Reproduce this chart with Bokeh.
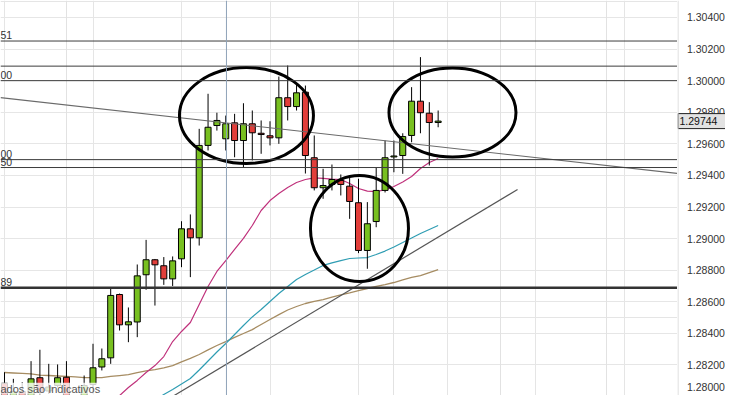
from bokeh.plotting import figure
from bokeh.layouts import row
from bokeh.models import FixedTicker, Label, Span, Range1d, Grid, ColumnDataSource
from bokeh.core.properties import value
from bokeh.embed import file_html
from bokeh.resources import INLINE

# ---------------- data ----------------
idx = list(range(50))
opens = [1.28084, 1.27874, 1.28032, 1.27899, 1.28119, 1.28035, 1.28070, 1.28122, 1.27836, 1.27861,
         1.28076, 1.28187, 1.28245, 1.28646, 1.28454, 1.28472, 1.28771, 1.28866, 1.28828, 1.28745,
         1.28872, 1.29062, 1.29005, 1.29590, 1.29716, 1.29632, 1.29733, 1.29621, 1.29727, 1.29667,
         1.29651, 1.29638, 1.29892, 1.29836, 1.29927, 1.29512, 1.29322, 1.29343, 1.29368, 1.29332,
         1.29227, 1.28925, 1.29108, 1.29305, 1.29517, 1.29526, 1.29653, 1.29870, 1.29794, 1.29735]
highs = [1.28154, 1.28112, 1.28091, 1.28224, 1.28296, 1.28207, 1.28203, 1.28224, 1.27899, 1.28133,
         1.28334, 1.28304, 1.28688, 1.28652, 1.28564, 1.28836, 1.28992, 1.28871, 1.28883, 1.28887,
         1.29110, 1.29153, 1.29695, 1.29917, 1.29797, 1.29779, 1.29790, 1.29857, 1.29811, 1.29748,
         1.29743, 1.30026, 1.30096, 1.29976, 1.29969, 1.29653, 1.29442, 1.29469, 1.29406, 1.29387,
         1.29379, 1.29231, 1.29452, 1.29621, 1.29621, 1.29667, 1.29959, 1.30149, 1.29864, 1.29811]
lows = [1.27848, 1.27836, 1.27823, 1.27861, 1.27988, 1.28016, 1.28057, 1.27848, 1.27785, 1.27823,
        1.28019, 1.28165, 1.28207, 1.28418, 1.28344, 1.28376, 1.28676, 1.28576, 1.28707, 1.28700,
        1.28819, 1.28756, 1.28956, 1.29558, 1.29684, 1.29558, 1.29515, 1.29452, 1.29495, 1.29537,
        1.29590, 1.29600, 1.29748, 1.29811, 1.29412, 1.29305, 1.29252, 1.29305, 1.29273, 1.29125,
        1.28908, 1.28809, 1.29072, 1.29292, 1.29420, 1.29410, 1.29610, 1.29667, 1.29463, 1.29705]
closes = [1.27886, 1.28032, 1.27861, 1.28112, 1.28027, 1.28060, 1.28119, 1.27880, 1.27893, 1.28070,
          1.28182, 1.28239, 1.28640, 1.28454, 1.28473, 1.28764, 1.28866, 1.28834, 1.28745, 1.28859,
          1.29062, 1.29005, 1.29590, 1.29705, 1.29748, 1.29727, 1.29621, 1.29727, 1.29670, 1.29659,
          1.29638, 1.29892, 1.29836, 1.29923, 1.29526, 1.29322, 1.29336, 1.29374, 1.29343, 1.29235,
          1.28925, 1.29094, 1.29305, 1.29512, 1.29523, 1.29646, 1.29870, 1.29797, 1.29735, 1.29744]

# moving averages
ma_fast_x = list(range(11, 50))
ma_fast = [1.27905, 1.27956, 1.28006, 1.28057, 1.28102, 1.28152, 1.28196, 1.28253, 1.28348, 1.28412,
           1.28469, 1.28583, 1.28697, 1.28792, 1.28861, 1.28931, 1.29001, 1.29083, 1.29178, 1.29241,
           1.29286, 1.29324, 1.29355, 1.29374, 1.29384, 1.29381, 1.29377, 1.29374, 1.29349, 1.29317,
           1.29301, 1.29298, 1.29308, 1.29330, 1.29358, 1.29393, 1.29444, 1.29482, 1.29507]
ma_mid_x = list(range(15, 50))
ma_mid = [1.27899, 1.27934, 1.27975, 1.28013, 1.28045, 1.28079, 1.28114, 1.28168, 1.28225, 1.28282,
          1.28336, 1.28393, 1.28450, 1.28504, 1.28551, 1.28602, 1.28652, 1.28697, 1.28741, 1.28773,
          1.28801, 1.28830, 1.28846, 1.28861, 1.28874, 1.28877, 1.28880, 1.28899, 1.28921, 1.28947,
          1.28975, 1.29004, 1.29032, 1.29058, 1.29083]
ma_slow_x = list(range(0, 50))
ma_slow = [1.28152, 1.28149, 1.28146, 1.28143, 1.28136, 1.28133, 1.28130, 1.28127, 1.28124, 1.28120,
           1.28120, 1.28120, 1.28127, 1.28133, 1.28139, 1.28152, 1.28162, 1.28171, 1.28181, 1.28196,
           1.28219, 1.28241, 1.28266, 1.28295, 1.28323, 1.28348, 1.28374, 1.28399, 1.28424, 1.28456,
           1.28488, 1.28519, 1.28548, 1.28570, 1.28589, 1.28602, 1.28614, 1.28630, 1.28643, 1.28656,
           1.28671, 1.28684, 1.28697, 1.28709, 1.28722, 1.28738, 1.28754, 1.28766, 1.28785, 1.28804]

# drawn objects
down_trend_x = [-0.45, 76.05]
down_trend_y = [1.29893, 1.29412]
up_trend_x = [16.16, 57.97]
up_trend_y = [1.27905, 1.29311]
levels_thin = [1.30251, 1.30092, 1.30000, 1.29500, 1.29450]
level_thick = 1.28689
level_label_y = [1.30251, 1.30000, 1.29500, 1.29450, 1.28689]
level_label_txt = ["51", "00", "00", "50", "89"]
ellipse_x = [27.34, 40.11, 50.62]
ellipse_y = [1.29779, 1.29064, 1.29798]
ellipse_w = [134, 98, 127]
ellipse_h = [96, 106, 89]
cursor_x = 25.08
grid_x = [7, 44, 56, 68]
yticks = [1.280, 1.282, 1.284, 1.286, 1.288, 1.290, 1.292, 1.294, 1.296, 1.298, 1.300, 1.302, 1.304]
ytick_labels = ["%.5f" % t for t in yticks]
last_price = 1.29744
note_text = "ados são Indicativos"

# ---------------- shared scale ----------------
y_rng = Range1d(1.280065, 1.305076)

# ---------------- main price panel ----------------
p = figure(width=677, height=395, output_backend="svg", toolbar_location=None,
           x_range=Range1d(-0.452, 76.045), y_range=y_rng,
           x_axis_location=None, y_axis_location=None,
           min_border_left=0, min_border_top=0, min_border_bottom=0, min_border_right=0)
p.outline_line_color = None
p.background_fill_color = "white"
p.border_fill_color = "white"
p.add_layout(Grid(dimension=1, ticker=FixedTicker(ticks=yticks), grid_line_color="#e6e6e6"))
p.add_layout(Grid(dimension=0, ticker=FixedTicker(ticks=grid_x), grid_line_color="#e2e2e2"))

# moving averages
p.line(ma_slow_x, ma_slow, line_color="#a68c62", line_width=1.3)
p.line(ma_mid_x, ma_mid, line_color="#2f9db3", line_width=1.2)
p.line(ma_fast_x, ma_fast, line_color="#c0327c", line_width=1.2)

# candles
src = ColumnDataSource(dict(
    x=idx, low=lows, high=highs,
    top=[max(o, c) for o, c in zip(opens, closes)],
    bottom=[min(o, c) for o, c in zip(opens, closes)],
    color=["#78c020" if c >= o else "#e23e3a" for o, c in zip(opens, closes)],
))
p.segment(x0="x", y0="low", x1="x", y1="high", source=src, line_color="black", line_width=1)
p.vbar(x="x", width=0.68, top="top", bottom="bottom", source=src,
       fill_color="color", line_color="black", line_width=1)

# trend lines
p.line(down_trend_x, down_trend_y, line_color="#6a6a6a", line_width=1.2)
p.line(up_trend_x, up_trend_y, line_color="#555555", line_width=1.2)

# horizontal levels and cursor
for lv in levels_thin:
    p.add_layout(Span(location=lv, dimension="width", line_color="#3c3c3c", line_width=1))
p.add_layout(Span(location=level_thick, dimension="width", line_color="#333333", line_width=2.5))
p.add_layout(Span(location=cursor_x, dimension="height", line_color="#8fa3b8", line_width=1))

p.text(x=[-0.452] * len(level_label_y), y=level_label_y, text=level_label_txt, y_offset=-2,
       text_font=value("Liberation Sans"), text_font_size="10.5px", text_color="#333333",
       text_baseline="bottom", text_align="left")

# ellipses
p.ellipse(x=ellipse_x, y=ellipse_y, width=ellipse_w, height=ellipse_h,
          width_units="screen", height_units="screen",
          fill_color=None, line_color="black", line_width=3)

# note text (kept inside the visible area)
p.add_layout(Label(x=0, y=1.28050, x_units="screen", y_units="data", text=note_text,
                   text_font="Liberation Sans", text_font_size="11px", text_color="#555555",
                   text_baseline="alphabetic", text_align="left",
                   background_fill_color="white", background_fill_alpha=0.8))

# ---------------- right price scale panel ----------------
s = figure(width=48, height=395, output_backend="svg", toolbar_location=None,
           x_range=Range1d(0, 48), y_range=y_rng,
           x_axis_location=None, y_axis_location=None,
           min_border_left=0, min_border_top=0, min_border_bottom=0, min_border_right=0)
s.outline_line_color = None
s.background_fill_color = "white"
s.border_fill_color = "white"
s.xgrid.visible = False
s.ygrid.visible = False
s.add_layout(Span(location=0.5, dimension="height", line_color="#d6d6d6", line_width=1))
tick_offsets = [-10 if t == yticks[0] else 0 for t in yticks]
s.text(x=[9.5] * len(yticks), y=yticks, text=ytick_labels, y_offset=tick_offsets,
       text_font=value("Liberation Sans"), text_font_size="10.5px", text_color="#333333",
       text_baseline="middle", text_align="left")
s.rect(x=[25], y=[last_price], width=[49], height=[15], height_units="screen",
       fill_color="#e2e2e2", line_color="#222222", line_width=1)
s.text(x=[2], y=[last_price], text=["1.29744"],
       text_font=value("Liberation Sans"), text_font_size="10.5px", text_color="#111111",
       text_baseline="middle", text_align="left")

layout = row(p, s, spacing=0)
open("out.html", "w").write(file_html(layout, INLINE))
